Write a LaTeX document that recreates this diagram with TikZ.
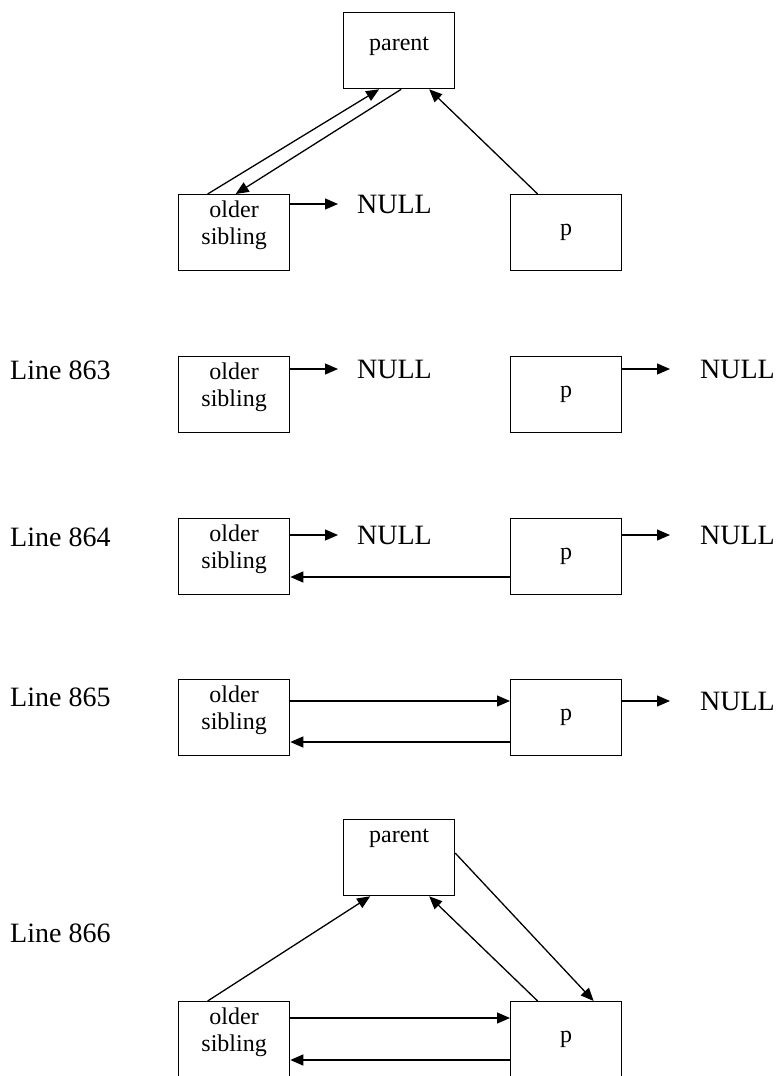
\documentclass[tikz,border=0pt]{standalone}
\usepackage{fontspec}
\setmainfont{Liberation Serif}
\usetikzlibrary{arrows.meta}
\tikzset{
  box/.style={draw, line width=1.3pt, minimum width=111pt, minimum height=76pt, inner sep=0pt, anchor=north west},
  boxtxt/.style={inner sep=0pt, align=center, font=\fontsize{24}{27}\selectfont},
  bigtxt/.style={inner sep=0pt, anchor=west, text height=18.5pt, text depth=0pt, font=\fontsize{28}{32}\selectfont},
  arr/.style={line width=1.3pt, -{Triangle[length=13pt,width=11pt]}},
}
\begin{document}
\begin{tikzpicture}[x=1pt,y=-1pt]
\useasboundingbox (0,0) rectangle (780,1076);
% ---------- top diagram ----------
\node[box] (par0) at (343,12) {};
\node[box] (os0) at (178,194) {};
\node[box] (p0) at (510,194) {};
\node[boxtxt, anchor=base] at ([yshift=-38pt]par0.north) {parent};
\node[boxtxt, anchor=north] at ([yshift=-7pt]os0.north) {older\\sibling};
\node[boxtxt, anchor=base] at ([yshift=-41pt]p0.north) {p};
\node[bigtxt] (n0) at (357,204) {NULL};
\draw[arr, shorten >=19pt] (os0.east |- n0.west) -- (n0.west);
\draw[arr] ([xshift=-26.5pt]os0.north) -- ([xshift=-20pt]par0.south);
\draw[arr] ([xshift=2pt]par0.south) -- ([xshift=1.5pt]os0.north);
\draw[arr] ([xshift=-28.5pt]p0.north) -- ([xshift=30pt]par0.south);
% ---------- Line 863 ----------
\node[bigtxt] (l863) at (10,370) {Line 863};
\node[box] (os1) at (178,356) {};
\node[box] (p1) at (510,356) {};
\node[boxtxt, anchor=north] at ([yshift=-7pt]os1.north) {older\\sibling};
\node[boxtxt, anchor=base] at ([yshift=-41pt]p1.north) {p};
\node[bigtxt] (n1a) at (357,369) {NULL};
\node[bigtxt] (n1b) at (700,369) {NULL};
\draw[arr, shorten >=19pt] (os1.east |- n1a.west) -- (n1a.west);
\draw[arr, shorten >=30pt] (p1.east |- n1b.west) -- (n1b.west);
% ---------- Line 864 ----------
\node[bigtxt] (l864) at (10,537) {Line 864};
\node[box] (os2) at (178,518) {};
\node[box] (p2) at (510,518) {};
\node[boxtxt, anchor=north] at ([yshift=-7pt]os2.north) {older\\sibling};
\node[boxtxt, anchor=base] at ([yshift=-41pt]p2.north) {p};
\node[bigtxt] (n2a) at (357,535) {NULL};
\node[bigtxt] (n2b) at (700,535) {NULL};
\draw[arr, shorten >=19pt] (os2.east |- n2a.west) -- (n2a.west);
\draw[arr, shorten >=30pt] (p2.east |- n2b.west) -- (n2b.west);
\draw[arr] ([yshift=-59pt]p2.north west) -- ([yshift=-59pt]os2.north east);
% ---------- Line 865 ----------
\node[bigtxt] (l865) at (10,697) {Line 865};
\node[box] (os3) at (178,679) {};
\node[box] (p3) at (510,679) {};
\node[boxtxt, anchor=north] at ([yshift=-7pt]os3.north) {older\\sibling};
\node[boxtxt, anchor=base] at ([yshift=-41pt]p3.north) {p};
\node[bigtxt] (n3b) at (700,701) {NULL};
\draw[arr, shorten >=30pt] (p3.east |- n3b.west) -- (n3b.west);
\draw[arr] ([yshift=-22pt]os3.north east) -- ([yshift=-22pt]p3.north west);
\draw[arr] ([yshift=-63pt]p3.north west) -- ([yshift=-63pt]os3.north east);
% ---------- Line 866 ----------
\node[bigtxt] (l866) at (10,933) {Line 866};
\node[box] (par4) at (343,819) {};
\node[box] (os4) at (178,1001) {};
\node[box] (p4) at (510,1001) {};
\node[boxtxt, anchor=base] at ([yshift=-23pt]par4.north) {parent};
\node[boxtxt, anchor=north] at ([yshift=-7pt]os4.north) {older\\sibling};
\node[boxtxt, anchor=base] at ([yshift=-41pt]p4.north) {p};
\draw[arr] ([xshift=-26.5pt]os4.north) -- ([xshift=-29pt]par4.south);
\draw[arr] ([xshift=-28.5pt]p4.north) -- ([xshift=30pt]par4.south);
\draw[arr] ([yshift=4.5pt]par4.east) -- ([xshift=27.5pt]p4.north);
\draw[arr] ([yshift=-17pt]os4.north east) -- ([yshift=-17pt]p4.north west);
\draw[arr] ([yshift=-59pt]p4.north west) -- ([yshift=-59pt]os4.north east);
\end{tikzpicture}
\end{document}
